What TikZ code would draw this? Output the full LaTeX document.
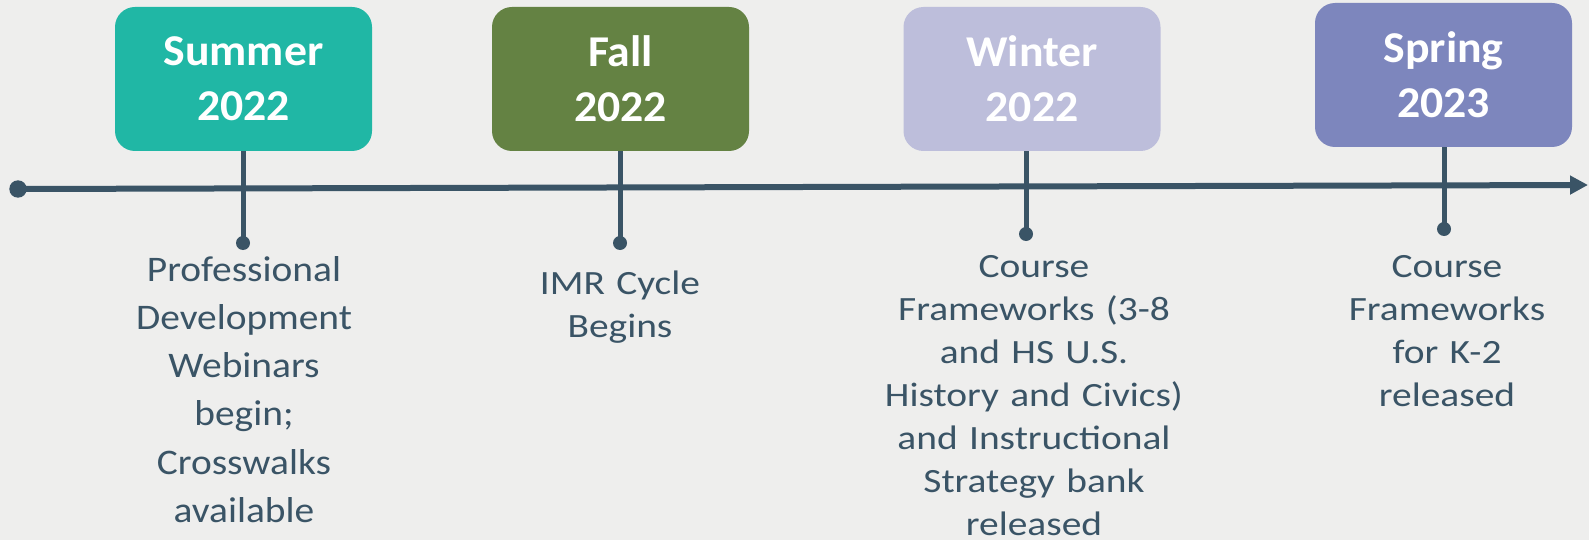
\documentclass[tikz,border=0pt]{standalone}
\usepackage{fontspec}
\setmainfont{Carlito}
\newfontfamily\bodyA{Carlito}[FakeStretch=1.095]
\newfontfamily\bodyB{Carlito}[FakeStretch=1.16]
\newfontfamily\titlef{Carlito}[FakeStretch=1.04]
\usetikzlibrary{arrows.meta}
\definecolor{bgc}{RGB}{238,238,237}
\definecolor{ink}{RGB}{58,84,102}
\definecolor{csum}{RGB}{32,183,165}
\definecolor{cfal}{RGB}{100,130,67}
\definecolor{cwin}{RGB}{189,190,219}
\definecolor{cspr}{RGB}{125,134,189}
\tikzset{
  season/.style={rounded corners=20pt, minimum width=257pt, minimum height=144pt,
    inner sep=0pt, align=center, text=white, font=\titlef\bfseries\fontsize{44}{55}\selectfont},
  stem/.style={draw=ink, line width=5pt},
  axis/.style={draw=ink, line width=6pt, -{Triangle[length=18pt,width=18pt]}},
  dot/.style={fill=ink},
  bodyA/.style={text=ink, text width=330pt, align=center, anchor=base, inner sep=0pt,
    font=\bodyA\fontsize{36}{48.3}\selectfont},
  bodyB/.style={text=ink, text width=330pt, align=center, anchor=base, inner sep=0pt,
    font=\bodyB\fontsize{34}{43}\selectfont},
}
\begin{document}
\begin{tikzpicture}[x=1pt,y=-1pt]
\fill[bgc] (0,0) rectangle (1589,540);
\useasboundingbox (0,0) rectangle (1589,540);
% timeline
\coordinate (tstart) at (18,189);
\coordinate (tend) at (1588,185);
\draw[axis] (tstart) -- (tend);
\fill[dot] (tstart) circle (8.7pt);
% boxes
\node[season, fill=csum] (sum) at (243.5,79) {Summer\\2022};
\node[season, fill=cfal] (fal) at (620.5,79) {Fall\\2022};
\node[season, fill=cwin] (win) at (1032,79) {Winter\\2022};
\node[season, fill=cspr] (spr) at (1443.5,75) {Spring\\2023};
% dots
\coordinate (dsum) at (243,243);
\coordinate (dfal) at (620,243);
\coordinate (dwin) at (1026,234);
\coordinate (dspr) at (1444,229);
\draw[stem] (sum.south -| dsum) -- (dsum);
\draw[stem] (fal.south -| dfal) -- (dfal);
\draw[stem] (win.south -| dwin) -- (dwin);
\draw[stem] (spr.south -| dspr) -- (dspr);
\foreach \d in {dsum,dfal,dwin,dspr} \fill[dot] (\d) circle (7pt);
% texts
\node[bodyA] (tsum) at (244,281) {Professional\\Development\\Webinars\\begin;\\Crosswalks\\available};
\node[bodyB] (tfal) at (620,294) {IMR Cycle\\Begins};
\node[bodyB] (twin) at (1034,277) {Course\\Frameworks (3-8\\and HS U.S.\\History and Civics)\\and Instructional\\Strategy bank\\released};
\node[bodyB] (tspr) at (1447,277) {Course\\Frameworks\\for K-2\\released};
\end{tikzpicture}
\end{document}
